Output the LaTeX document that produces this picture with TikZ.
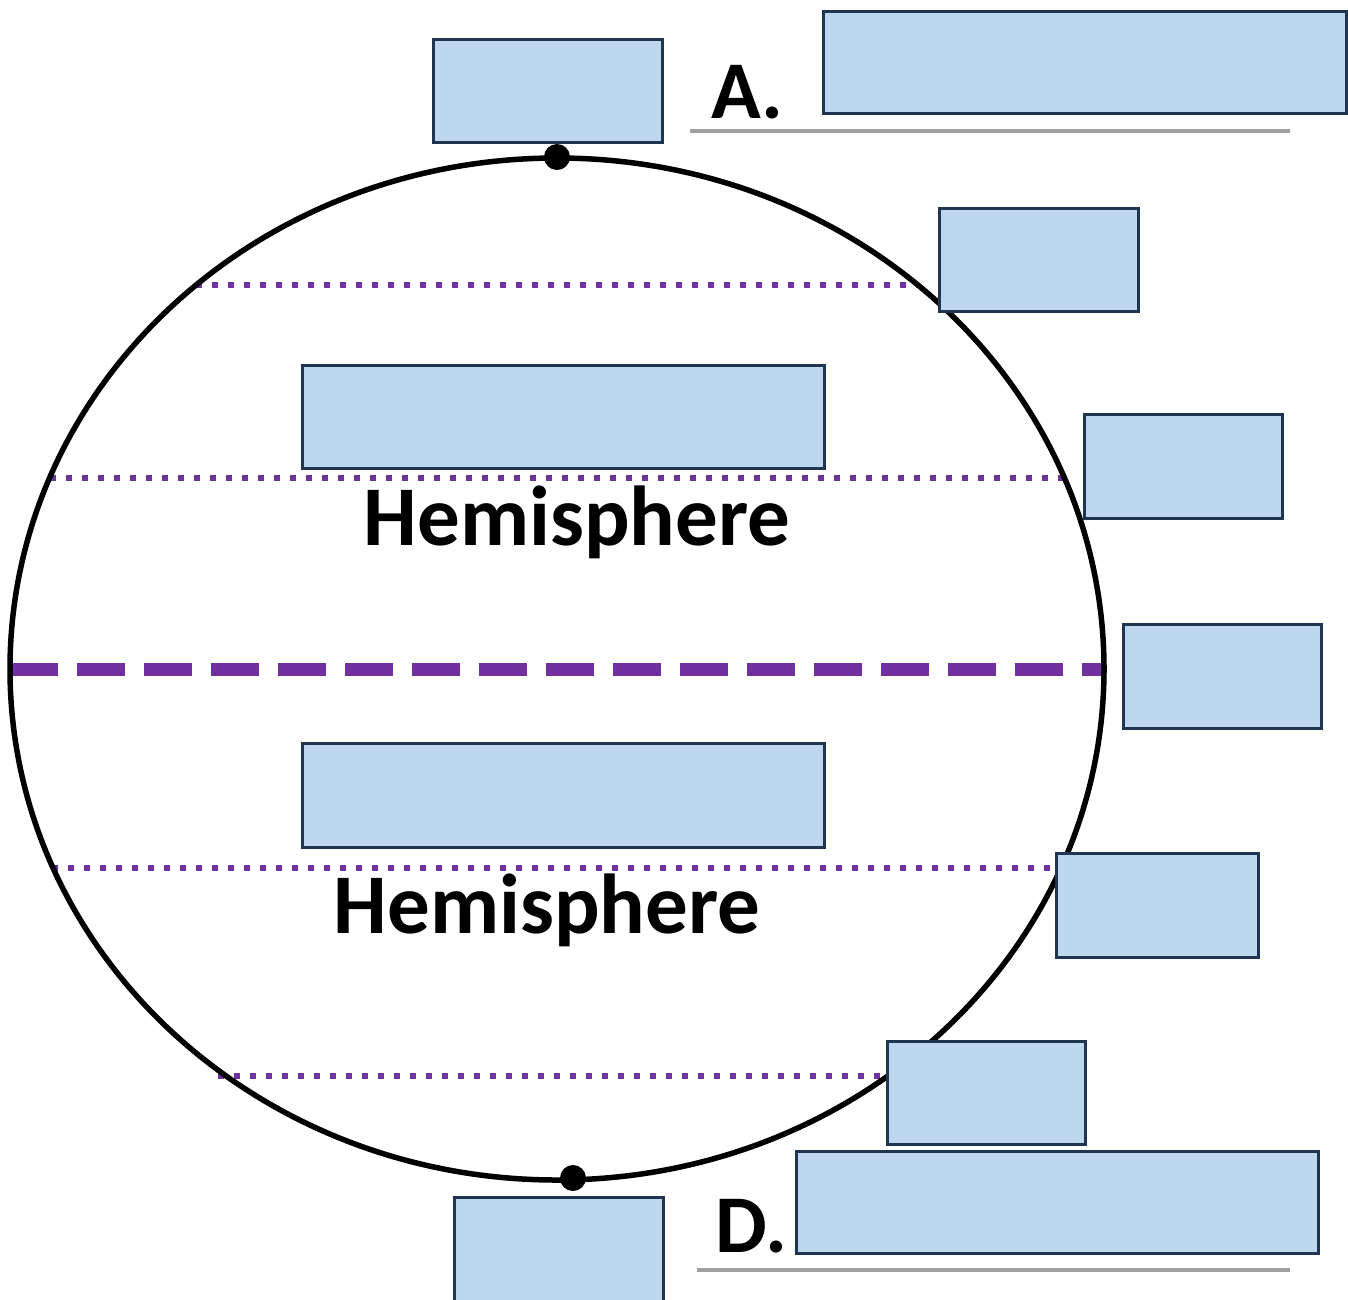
\documentclass[tikz,border=0pt]{standalone}
\usepackage{fontspec}
\setmainfont{Carlito}
\usepackage{tikz}

\definecolor{boxFill}{HTML}{BDD7EE}
\definecolor{boxLine}{HTML}{1F3550}
\definecolor{latPurple}{HTML}{7030A0}

\begin{document}
\begin{tikzpicture}
    [ x=1pt, y=-1pt,
      earth/.style={black, line width=5.5pt},
      pole/.style={black, fill=black},
      latitude/.style={latPurple, line width=6.5pt, dash pattern=on 5.5pt off 10.5pt},
      equator/.style={latPurple, line width=13pt, dash pattern=on 48pt off 19pt},
      box/.style={draw=boxLine, fill=boxFill, line width=3pt, inner sep=0pt, anchor=north west},
      label/.style={font=\bfseries\fontsize{82}{82}\selectfont, inner sep=0pt},
      hemi/.style={font=\bfseries\fontsize{85}{85}\selectfont, inner sep=0pt},
      answerLine/.style={gray!75, line width=4.5pt}]

  \useasboundingbox (0,0) rectangle (1348,1299);

%%%%%%%%%%%%%%%%%%%%%%%%%%%%%%%%%%%%%%%%%%%%%%%%%%%%%%%%%%%%%%%%%%%%%%%%%%%%%%%%%%%%%%%%%%%%%%%%%%%%%%%%%%
%draw the globe and its latitude lines
	  \draw[latitude] (196,285) -- (918,285);
	  \draw[latitude] (50,478) -- (1064,478);
	  \draw[latitude] (52,868) -- (1062,868);
	  \draw[latitude] (218,1076) -- (896,1076);
	  \draw[equator]  (10,669) -- (1102,669);

	  \draw[earth] (557,669) ellipse [x radius=547pt, y radius=511pt];
	  \fill[pole] (557,157) circle (13pt);
	  \fill[pole] (573,1178) circle (13pt);

%%%%%%%%%%%%%%%%%%%%%%%%%%%%%%%%%%%%%%%%%%%%%%%%%%%%%%%%%%%%%%%%%%%%%%%%%%%%%%%%%%%%%%%%%%%%%%%%%%%%%%%%%%
%insert the answer boxes

	  \node[box, minimum width=229pt, minimum height=103pt] (northPole) at (432,38) {};
	  \node[box, minimum width=523pt, minimum height=102pt] (answerA) at (822,10) {};
	  \node[box, minimum width=199pt, minimum height=103pt] (arctic) at (938,207) {};
	  \node[box, minimum width=522pt, minimum height=103pt] (northHemi) at (301,364) {};
	  \node[box, minimum width=198pt, minimum height=104pt] (cancer) at (1083,413) {};
	  \node[box, minimum width=198pt, minimum height=104pt] (equatorBox) at (1122,623) {};
	  \node[box, minimum width=522pt, minimum height=104pt] (southHemi) at (301,742) {};
	  \node[box, minimum width=202pt, minimum height=104pt] (capricorn) at (1055,852) {};
	  \node[box, minimum width=198pt, minimum height=103pt] (antarctic) at (886,1040) {};
	  \node[box, minimum width=522pt, minimum height=102pt] (answerD) at (795,1150) {};
	  \node[box, minimum width=209pt, minimum height=120pt] (southPole) at (453,1196) {};

%%%%%%%%%%%%%%%%%%%%%%%%%%%%%%%%%%%%%%%%%%%%%%%%%%%%%%%%%%%%%%%%%%%%%%%%%%%%%%%%%%%%%%%%%%%%%%%%%%%%%%%%%%
%labels and answer lines

	  \node[label, anchor=base west] (labelA) at (711,118) {A.};
	  \node[label, anchor=base west] (labelD) at (715,1252) {D.};
	  \draw[answerLine] (690,131) -- (1290,131);
	  \draw[answerLine] (697,1270) -- (1290,1270);

	  \node[hemi, anchor=base] (northText) at (577,545) {Hemisphere};
	  \node[hemi, anchor=base] (southText) at (547,933) {Hemisphere};

\end{tikzpicture}
\end{document}
